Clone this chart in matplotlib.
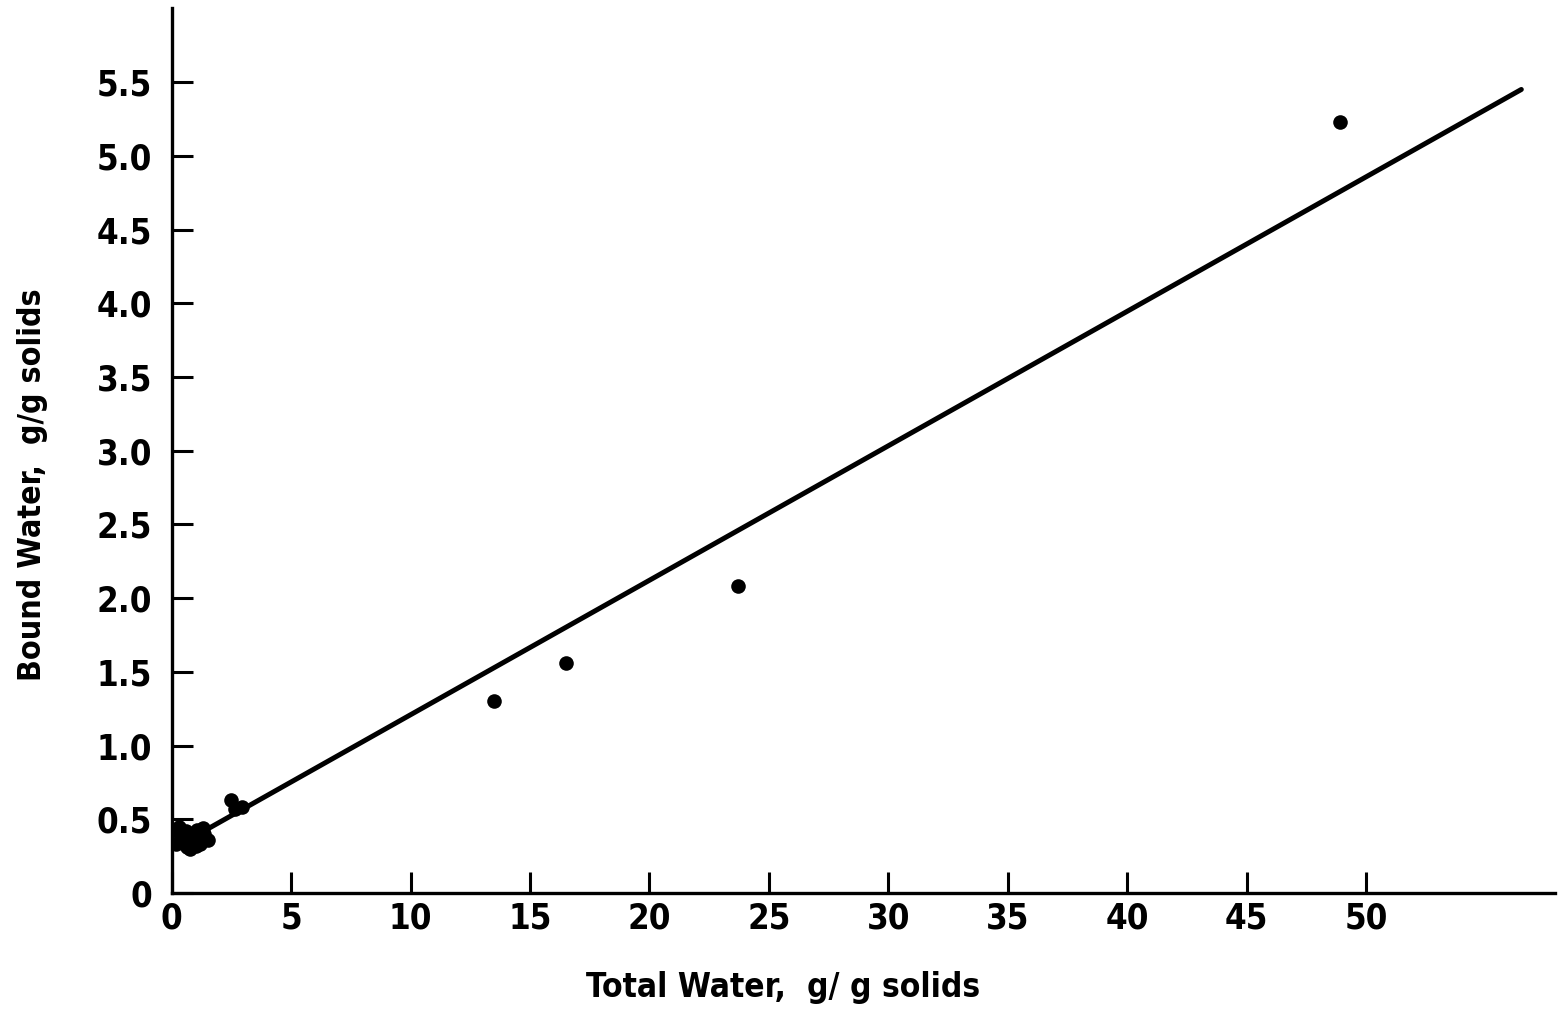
import matplotlib
matplotlib.use("Agg")
import matplotlib.pyplot as plt
import numpy as np

plt.rcParams['font.family'] = ['DejaVu Sans']
plt.rcParams['font.stretch'] = 'condensed'

# Measured points: total water vs bound water (g/g solids)
total_water = [0.2, 0.35, 0.5, 0.6, 0.75, 0.9, 1.05, 1.2, 1.35, 1.5,
               0.3, 0.65, 1.0, 1.3,
               2.5, 2.65, 2.95,
               13.5, 16.5, 23.7, 48.9]
bound_water = [0.33, 0.40, 0.35, 0.42, 0.30, 0.38, 0.43, 0.33, 0.40, 0.36,
               0.45, 0.31, 0.32, 0.44,
               0.63, 0.57, 0.58,
               1.30, 1.56, 2.08, 5.23]

# Fitted straight line
fit_x = [0.6, 56.5]
fit_slope = 0.0912
fit_intercept = 0.297

x_ticks = [0, 5, 10, 15, 20, 25, 30, 35, 40, 45, 50]
y_ticks = [0, 0.5, 1.0, 1.5, 2.0, 2.5, 3.0, 3.5, 4.0, 4.5, 5.0, 5.5]
y_tick_labels = ['0', '0.5', '1.0', '1.5', '2.0', '2.5', '3.0', '3.5',
                 '4.0', '4.5', '5.0', '5.5']

fig = plt.figure(figsize=(15.61, 10.18), dpi=100)
ax = fig.add_axes([0.110, 0.1228, 0.886, 0.869])

fx = np.array(fit_x)
ax.plot(fx, fit_slope * fx + fit_intercept, color='black', lw=3.6,
        solid_capstyle='round', zorder=2)
ax.plot(total_water, bound_water, 'o', color='black', markersize=10.5,
        markeredgewidth=0, zorder=3)

ax.set_xlim(0, 57.9)
ax.set_ylim(0, 6.0)
for side in ('top', 'right'):
    ax.spines[side].set_visible(False)
for side in ('left', 'bottom'):
    ax.spines[side].set_linewidth(2.4)

ax.set_xticks(x_ticks)
ax.set_yticks(y_ticks)
ax.set_yticklabels(y_tick_labels)
ax.tick_params(axis='both', direction='in', length=15, width=2.2,
               labelsize=25)
ax.tick_params(axis='y', pad=14)
ax.tick_params(axis='x', pad=6)
for lbl in ax.get_xticklabels() + ax.get_yticklabels():
    lbl.set_fontweight('bold')
    lbl.set_fontstretch('condensed')

ax.set_xlabel('Total Water,  g/ g solids', fontsize=24, fontweight='bold',
              fontstretch='condensed')
ax.set_ylabel('Bound Water,  g/g solids', fontsize=23, fontweight='bold',
              fontstretch='condensed')
ax.xaxis.set_label_coords(0.442, -0.107)
ax.yaxis.set_label_coords(-0.101, 0.461)
ax.xaxis.label.set_verticalalignment('center')
ax.yaxis.label.set_verticalalignment('center')

fig.savefig('out.png', dpi=100, facecolor='white')
